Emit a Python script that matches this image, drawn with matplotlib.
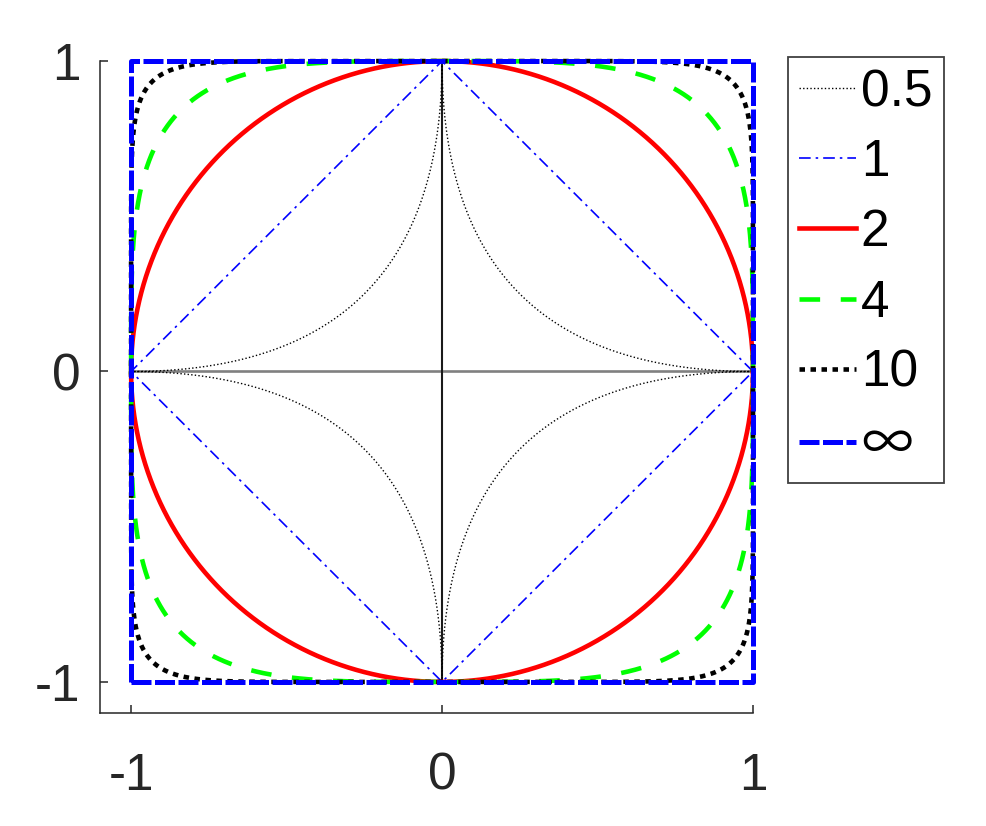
import numpy as np
import matplotlib
matplotlib.use('Agg')
import matplotlib.pyplot as plt

plt.rcParams['font.family'] = ['Liberation Sans', 'DejaVu Sans']

# norms shown and their styles
p_values = [0.5, 1, 2, 4, 10, np.inf]
labels = ['0.5', '1', '2', '4', '10', '\u221e']
colors = ['black', 'blue', 'red', '#00ff00', 'black', 'blue']
widths = [1.0, 1.2, 3.3, 3.3, 3.3, 3.6]
dashes = [(1, 1.6), (7, 3, 1.5, 3), None, (4.5, 4.5), (1.2, 1.2), (4, 0.7)]

ticks = [-1, 0, 1]
ticklabels = ['-1', '0', '1']

fig = plt.figure(figsize=(9.86, 8.26), dpi=100)
ax = fig.add_axes([0.1014, 0.1368, 0.6623, 0.7893])

# reference axes through the origin
ax.plot([-1, 1], [0, 0], color='0.5', lw=1.9, zorder=1)
ax.plot([0, 0], [-1, 1], color='0.1', lw=1.5, zorder=1.1)

t = np.linspace(0, 2 * np.pi, 4001)
for p, lab, c, w, d in zip(p_values, labels, colors, widths, dashes):
    if np.isinf(p):
        x = np.array([-1, 1, 1, -1, -1])
        y = np.array([-1, -1, 1, 1, -1])
    else:
        x = np.sign(np.cos(t)) * np.abs(np.cos(t)) ** (2 / p)
        y = np.sign(np.sin(t)) * np.abs(np.sin(t)) ** (2 / p)
    line, = ax.plot(x, y, color=c, lw=w, label=lab, clip_on=False, zorder=2)
    if d is not None:
        line.set_dashes(d)

ax.set_xlim(-1.1, 1)
ax.set_ylim(-1.1, 1)
ax.set_xticks(ticks)
ax.set_xticklabels(ticklabels)
ax.set_yticks(ticks)
ax.set_yticklabels(ticklabels)
ax.spines['top'].set_visible(False)
ax.spines['right'].set_visible(False)
for s in ['left', 'bottom']:
    ax.spines[s].set_color('0.15')
    ax.spines[s].set_linewidth(1.1)
ax.tick_params(direction='in', length=6, width=1.1, color='0.15',
               labelsize=37, labelcolor='0.15')
ax.tick_params(axis='x', pad=28)
ax.tick_params(axis='y', pad=14)

leg = fig.legend(loc='upper left', bbox_to_anchor=(0.799, 0.931),
                 bbox_transform=fig.transFigure, borderaxespad=0,
                 fontsize=37, handlelength=1.1, handletextpad=0.1,
                 labelspacing=0.41, borderpad=0.22, fancybox=False,
                 edgecolor='0.25', framealpha=1)
leg.get_frame().set_linewidth(1.3)
leg.get_texts()[-1].set_family(['Noto Sans CJK JP', 'DejaVu Sans'])

fig.savefig('out.png', dpi=100)
